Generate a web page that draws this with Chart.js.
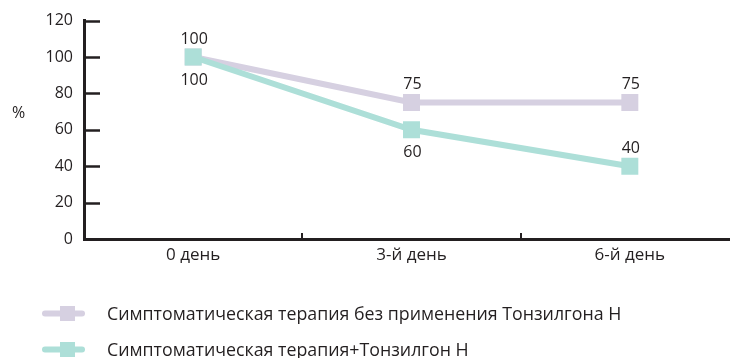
<!DOCTYPE html>
<html>
<head>
<meta charset="utf-8">
<script src="https://cdn.jsdelivr.net/npm/chart.js@4/dist/chart.umd.min.js"></script>
<style>
  html, body { margin: 0; padding: 0; background: #fff; overflow: hidden; }
  #c { display: block; }
</style>
</head>
<body>
<canvas id="c" width="740" height="358"></canvas>
<script>
// Days of observation
const days = ['0 день', '3-й день', '6-й день'];
// Share of patients with symptoms, %
const withoutTonsilgon = [100, 75, 75];
const withTonsilgon = [100, 60, 40];
// Series names
const seriesNames = [
  'Симптоматическая терапия без применения Тонзилгона Н',
  'Симптоматическая терапия+Тонзилгон Н'
];
const yTicks = [0, 20, 40, 60, 80, 100, 120];

const INK = '#231f20';
const LAVENDER = '#d6d0e1';
const TEAL = '#addfd8';
const FONT = '"Open Sans", "Noto Sans", sans-serif';

// Axis tick marks drawn inside the plot, value labels, "%" caption and legend
const decorations = {
  id: 'decorations',
  afterDatasetsDraw(chart) {
    const { ctx, chartArea: a, scales: { x, y } } = chart;
    ctx.save();
    ctx.strokeStyle = INK;
    ctx.lineWidth = 2.5;
    y.ticks.forEach(t => {
      const py = Math.round(y.getPixelForValue(t.value)) + 0.5;
      ctx.beginPath();
      ctx.moveTo(a.left, py);
      ctx.lineTo(a.left + 16, py);
      ctx.stroke();
    });
    ctx.lineWidth = 2;
    for (let i = 0; i < days.length - 1; i++) {
      const px = Math.round((x.getPixelForTick(i) + x.getPixelForTick(i + 1)) / 2);
      ctx.beginPath();
      ctx.moveTo(px, a.bottom);
      ctx.lineTo(px, a.bottom - 6);
      ctx.stroke();
    }

    // value labels
    ctx.fillStyle = INK;
    ctx.font = '16px ' + FONT;
    ctx.textAlign = 'center';
    ctx.textBaseline = 'middle';
    chart.data.datasets.forEach((ds, di) => {
      const meta = chart.getDatasetMeta(di);
      meta.data.forEach((pt, i) => {
        const above = ds.labelSide[i] === 'above';
        const dy = above ? -18 : 23;
        ctx.fillText(String(ds.data[i]), pt.x + 1, pt.y + dy);
      });
    });

    // axis caption
    ctx.textAlign = 'left';
    ctx.fillText('%', 12, a.top + 93);

    // legend
    ctx.font = '17.8px ' + FONT;
    chart.data.datasets.forEach((ds, di) => {
      const cy = 313.5 + di * 36;
      ctx.strokeStyle = ds.borderColor;
      ctx.lineWidth = 6;
      ctx.lineCap = 'round';
      ctx.beginPath();
      ctx.moveTo(45, cy);
      ctx.lineTo(82, cy);
      ctx.stroke();
      ctx.fillStyle = ds.borderColor;
      ctx.fillRect(60, cy - 7.5, 15, 15);
      ctx.fillStyle = INK;
      ctx.fillText(ds.label, 107, cy + 1);
    });
    ctx.restore();
  }
};

new Chart(document.getElementById('c'), {
  type: 'line',
  data: {
    labels: days,
    datasets: [
      {
        label: seriesNames[0],
        data: withoutTonsilgon,
        borderColor: LAVENDER,
        backgroundColor: LAVENDER,
        borderWidth: 6,
        pointStyle: 'rect',
        pointRadius: 12,
        pointBorderWidth: 0,
        tension: 0,
        order: 1,
        labelSide: ['above', 'above', 'above']
      },
      {
        label: seriesNames[1],
        data: withTonsilgon,
        borderColor: TEAL,
        backgroundColor: TEAL,
        borderWidth: 6,
        pointStyle: 'rect',
        pointRadius: 12,
        pointBorderWidth: 0,
        tension: 0,
        order: 0,
        labelSide: ['below', 'below', 'above']
      }
    ]
  },
  options: {
    responsive: false,
    maintainAspectRatio: false,
    animation: false,
    devicePixelRatio: 1,
    layout: { autoPadding: false, padding: { top: 20, left: 0, right: 1, bottom: 89 } },
    plugins: { legend: { display: false }, tooltip: { enabled: false } },
    scales: {
      x: {
        type: 'category',
        offset: true,
        grid: { display: false, drawTicks: false },
        border: { display: true, color: INK, width: 3 },
        ticks: { color: INK, font: { size: 17, family: FONT }, padding: 6, maxRotation: 0 },
        afterFit(s) { s.height = 30; }
      },
      y: {
        min: 0,
        max: 120,
        afterBuildTicks(s) { s.ticks = yTicks.map(v => ({ value: v })); },
        grid: { display: false, drawTicks: false },
        border: { display: true, color: INK, width: 3 },
        ticks: { color: INK, font: { size: 16, family: FONT }, padding: 11 },
        afterFit(s) { s.width = 84; }
      }
    }
  },
  plugins: [decorations]
});
</script>
</body>
</html>
